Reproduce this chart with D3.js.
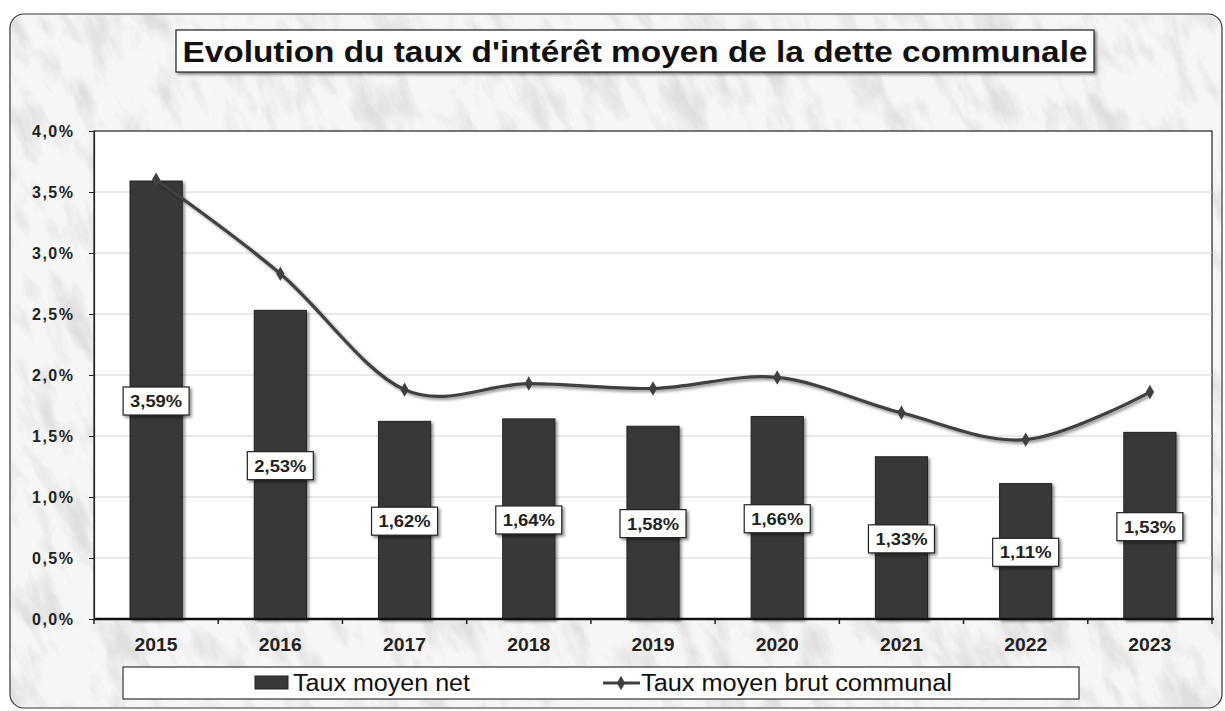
<!DOCTYPE html>
<html>
<head>
<meta charset="utf-8">
<script src="https://cdn.jsdelivr.net/npm/d3@7"></script>
<style>
  body { margin: 0; background: #ffffff; }
  text { font-family: "Liberation Sans", Arial, sans-serif; }
</style>
</head>
<body>
<svg id="chart" width="1225" height="711"></svg>
<script>
var years = ["2015", "2016", "2017", "2018", "2019", "2020", "2021", "2022", "2023"];
var tauxNet = [3.59, 2.53, 1.62, 1.64, 1.58, 1.66, 1.33, 1.11, 1.53];
var tauxBrut = [3.60, 2.83, 1.88, 1.93, 1.89, 1.98, 1.69, 1.47, 1.86];
var yTicks = [0, 0.5, 1.0, 1.5, 2.0, 2.5, 3.0, 3.5, 4.0];
var legendLabels = ["Taux moyen net", "Taux moyen brut communal"];
var titre = "Evolution du taux d'intérêt moyen de la dette communale";

var svg = d3.select("#chart");
var fr = d3.formatLocale({decimal: ",", thousands: " ", grouping: [3], currency: ["", "€"]});
var f1 = fr.format(".1f"), f2 = fr.format(".2f");

// fond marbré
var defs = svg.append("defs");
var marble = defs.append("filter").attr("id", "marble").attr("x", 0).attr("y", 0).attr("width", 1).attr("height", 1);
marble.append("feTurbulence").attr("type", "fractalNoise").attr("baseFrequency", "0.045 0.016").attr("numOctaves", 5).attr("seed", 11).attr("result", "n");
marble.append("feColorMatrix").attr("in", "n").attr("type", "matrix")
  .attr("values", "0 0 0 0 0.55  0 0 0 0 0.55  0 0 0 0 0.55  -3 0 0 0 1.6").attr("result", "streak");
marble.append("feComposite").attr("in", "streak").attr("in2", "SourceGraphic").attr("operator", "in");

var shadow = defs.append("filter").attr("id", "shadow").attr("x", "-20%").attr("y", "-20%").attr("width", "150%").attr("height", "150%");
shadow.append("feDropShadow").attr("dx", 2).attr("dy", 2).attr("stdDeviation", 1.5).attr("flood-color", "#000").attr("flood-opacity", 0.45);

defs.append("clipPath").attr("id", "cadre").append("rect")
  .attr("x", 11).attr("y", 15).attr("width", 1210).attr("height", 692).attr("rx", 14);

svg.append("rect").attr("x", 10).attr("y", 14).attr("width", 1212).attr("height", 694).attr("rx", 14)
  .attr("fill", "#f6f6f6").attr("stroke", "#333").attr("stroke-width", 1.2);
svg.append("g").attr("clip-path", "url(#cadre)")
  .append("rect").attr("x", -300).attr("y", -300).attr("width", 1800).attr("height", 1300)
  .attr("transform", "rotate(-25 612 360)")
  .attr("fill", "#f6f6f6").attr("filter", "url(#marble)").attr("opacity", 0.45);

// titre
svg.append("rect").attr("x", 176).attr("y", 30).attr("width", 918).attr("height", 42)
  .attr("fill", "#fff").attr("stroke", "#222").attr("stroke-width", 1.2).attr("filter", "url(#shadow)");
svg.append("text").attr("x", 635).attr("y", 62).attr("text-anchor", "middle")
  .attr("font-size", 30).attr("font-weight", "bold").attr("fill", "#111")
  .attr("textLength", 905).attr("lengthAdjust", "spacingAndGlyphs").text(titre);

var x = d3.scaleBand().domain(years).range([94, 1212]).padding(0);
var y = d3.scaleLinear().domain([0, 4.0]).range([619, 131]);

// zone de tracé
svg.append("rect").attr("x", 94).attr("y", 131).attr("width", 1118).attr("height", 488)
  .attr("fill", "#fff").attr("stroke", "#222").attr("stroke-width", 1.2);

svg.append("g").selectAll("line").data(yTicks.slice(1, -1)).enter().append("line")
  .attr("x1", 94).attr("x2", 1212)
  .attr("y1", function(d) { return y(d); }).attr("y2", function(d) { return y(d); })
  .attr("stroke", "#d4d4d4").attr("stroke-width", 1);

var yAxis = svg.append("g").attr("transform", "translate(94,0)")
  .call(d3.axisLeft(y).tickValues(yTicks).tickSize(5).tickPadding(16).tickFormat(function(d) { return f1(d) + "%"; }));
yAxis.select(".domain").attr("stroke", "#222").attr("stroke-width", 1.2);
yAxis.selectAll("line").attr("stroke", "#222");
yAxis.selectAll("text").attr("font-size", 16).attr("font-weight", "bold").attr("fill", "#222").attr("textLength", 41);

// barres
var bw = x.bandwidth() * 0.42;
svg.append("g").selectAll("rect").data(tauxNet).enter().append("rect")
  .attr("x", function(d, i) { return x(years[i]) + (x.bandwidth() - bw) / 2; })
  .attr("y", function(d) { return y(d); })
  .attr("width", bw)
  .attr("height", function(d) { return y(0) - y(d); })
  .attr("fill", "#393939").attr("stroke", "#222").attr("stroke-width", 1)
  .attr("filter", "url(#shadow)");

// axe x
var xAxis = svg.append("g").attr("transform", "translate(0,619)");
xAxis.append("line").attr("x1", 94).attr("x2", 1214).attr("stroke", "#111").attr("stroke-width", 2.5);
xAxis.selectAll(".tk").data(years.concat(["end"])).enter().append("line")
  .attr("x1", function(d, i) { return 94 + i * x.step(); })
  .attr("x2", function(d, i) { return 94 + i * x.step(); })
  .attr("y1", 0).attr("y2", 5).attr("stroke", "#222").attr("stroke-width", 1.5);
xAxis.selectAll("text").data(years).enter().append("text")
  .attr("x", function(d) { return x(d) + x.bandwidth() / 2; })
  .attr("y", 32).attr("text-anchor", "middle")
  .attr("font-size", 17.5).attr("font-weight", "bold").attr("fill", "#222")
  .attr("textLength", 43).attr("lengthAdjust", "spacingAndGlyphs").text(function(d) { return d; });

// courbe
var line = d3.line()
  .x(function(d, i) { return x(years[i]) + x.bandwidth() / 2; })
  .y(function(d) { return y(d); })
  .curve(d3.curveCatmullRom.alpha(0));
svg.append("path").datum(tauxBrut).attr("d", line)
  .attr("fill", "none").attr("stroke", "#404040").attr("stroke-width", 3.2).attr("filter", "url(#shadow)");
svg.append("g").selectAll("path").data(tauxBrut).enter().append("path")
  .attr("d", d3.symbol().type(d3.symbolDiamond).size(60))
  .attr("transform", function(d, i) { return "translate(" + (x(years[i]) + x.bandwidth() / 2) + "," + y(d) + ")"; })
  .attr("fill", "#404040");

// étiquettes
var lab = svg.append("g").selectAll("g").data(tauxNet).enter().append("g")
  .attr("transform", function(d, i) { return "translate(" + (x(years[i]) + x.bandwidth() / 2) + "," + (y(d / 2) + 1) + ")"; });
lab.append("rect").attr("x", -33).attr("y", -14).attr("width", 66).attr("height", 28)
  .attr("fill", "#fff").attr("stroke", "#222").attr("stroke-width", 1.2).attr("filter", "url(#shadow)");
lab.append("text").attr("y", 6).attr("text-anchor", "middle")
  .attr("font-size", 16).attr("font-weight", "bold").attr("fill", "#222")
  .attr("textLength", 52).attr("lengthAdjust", "spacingAndGlyphs")
  .text(function(d) { return f2(d) + "%"; });

// légende
var leg = svg.append("g");
leg.append("rect").attr("x", 123).attr("y", 667).attr("width", 956).attr("height", 32)
  .attr("fill", "#fff").attr("stroke", "#333").attr("stroke-width", 1.2);
leg.append("rect").attr("x", 255).attr("y", 676).attr("width", 33).attr("height", 13)
  .attr("fill", "#393939").attr("stroke", "#222");
leg.append("text").attr("x", 293).attr("y", 691).attr("font-size", 23).attr("fill", "#111")
  .attr("textLength", 177).attr("lengthAdjust", "spacingAndGlyphs").text(legendLabels[0]);
leg.append("line").attr("x1", 603).attr("x2", 640).attr("y1", 683).attr("y2", 683)
  .attr("stroke", "#404040").attr("stroke-width", 3);
leg.append("path").attr("d", d3.symbol().type(d3.symbolDiamond).size(60)).attr("transform", "translate(621,683)").attr("fill", "#404040");
leg.append("text").attr("x", 641).attr("y", 691).attr("font-size", 23).attr("fill", "#111")
  .attr("textLength", 311).attr("lengthAdjust", "spacingAndGlyphs").text(legendLabels[1]);
</script>
</body>
</html>
